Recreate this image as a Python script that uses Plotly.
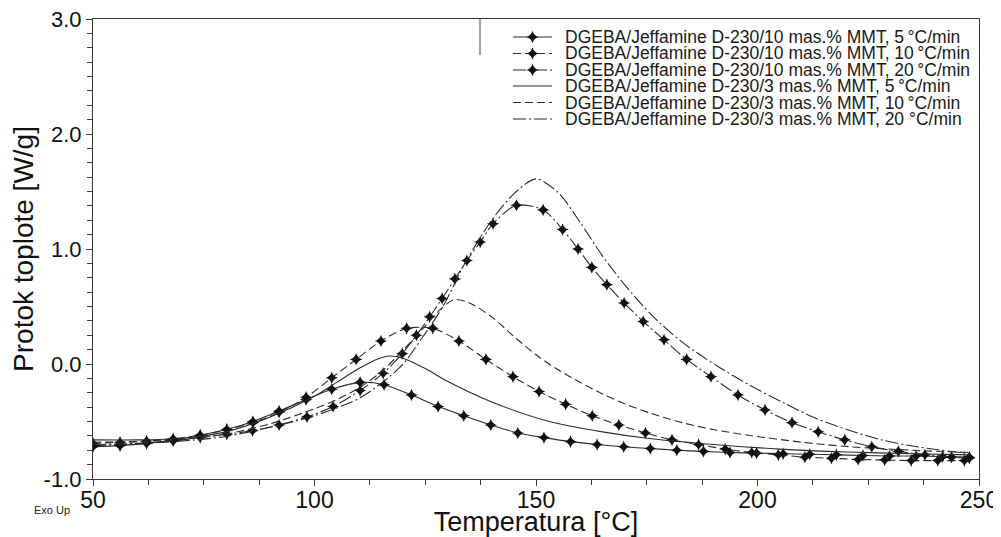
import plotly.graph_objects as go

# ---------------- data ----------------
T_10_5 = [50, 56.1, 62.1, 68.1, 74.2, 80.2, 86.1, 92.0, 98.1, 103.9, 110.3, 115.7, 121.9, 127.9,
          133.7, 139.8, 145.9, 151.8, 157.8, 163.8, 169.8, 175.8, 181.8, 187.8, 193.8, 199.8,
          205.8, 211.8, 217.8, 223.8, 229.8, 235.8, 241.8, 247.8]
Q_10_5 = [-0.72, -0.71, -0.69, -0.66, -0.62, -0.57, -0.50, -0.41, -0.31, -0.22, -0.16, -0.18, -0.27, -0.37,
          -0.45, -0.53, -0.60, -0.64, -0.675, -0.70, -0.72, -0.735, -0.75, -0.76, -0.77, -0.775,
          -0.78, -0.785, -0.79, -0.795, -0.80, -0.80, -0.805, -0.81]

T_10_10 = [50, 56.1, 62.1, 68.1, 74.2, 80.2, 86.1, 92.0, 98.1, 103.9, 109.4, 115.0, 120.8, 126.7,
           132.6, 138.7, 144.8, 150.7, 156.7, 162.7, 168.7, 174.7, 180.7, 186.7, 192.7, 198.7,
           204.7, 210.7, 216.7, 222.7, 228.7, 234.7, 240.7, 246.7]
Q_10_10 = [-0.69, -0.68, -0.67, -0.65, -0.62, -0.57, -0.51, -0.42, -0.29, -0.12, 0.04, 0.20, 0.31, 0.31,
           0.20, 0.04, -0.11, -0.24, -0.35, -0.45, -0.53, -0.60, -0.66, -0.70, -0.74, -0.77,
           -0.79, -0.81, -0.82, -0.83, -0.835, -0.84, -0.84, -0.84]

T_10_20 = [50, 56.1, 62.1, 68.1, 74.2, 80.2, 86.0, 92.0, 98.3, 104.2, 110.3, 115.5, 119.8, 123.0,
           126.0, 128.8, 131.7, 134.4, 137.4, 140.3, 145.6, 151.6, 156.0, 159.5, 162.6, 166.0,
           169.9, 174.2, 178.9, 184.0, 189.5, 195.6, 201.7, 207.8, 213.7, 219.7, 225.8, 231.8,
           237.8, 243.8, 247.8]
Q_10_20 = [-0.71, -0.70, -0.69, -0.67, -0.64, -0.61, -0.58, -0.53, -0.46, -0.37, -0.23, -0.08, 0.09, 0.25,
           0.41, 0.57, 0.74, 0.90, 1.06, 1.22, 1.38, 1.34, 1.17, 1.00, 0.84, 0.69,
           0.53, 0.37, 0.21, 0.04, -0.11, -0.27, -0.40, -0.51, -0.59, -0.66, -0.72, -0.76,
           -0.79, -0.81, -0.82]

T_3_5 = [50, 60, 70, 80, 90, 100, 105, 110, 114, 117, 120, 125, 130, 140, 153, 165, 176, 190,
         205, 220, 235, 248]
Q_3_5 = [-0.66, -0.66, -0.645, -0.59, -0.46, -0.28, -0.16, -0.04, 0.04, 0.07, 0.05, -0.04, -0.15,
         -0.33, -0.50, -0.59, -0.65, -0.70, -0.74, -0.765, -0.78, -0.79]

T_3_10 = [50, 60, 70, 80, 90, 100, 105, 110, 115, 120, 125, 128, 131.5, 135, 140, 145, 150, 155,
          160, 165, 170, 176, 183, 190, 198, 210, 221, 235, 248]
Q_3_10 = [-0.68, -0.675, -0.655, -0.61, -0.52, -0.39, -0.31, -0.21, -0.07, 0.12, 0.33, 0.46, 0.56,
          0.53, 0.41, 0.24, 0.08, -0.05, -0.16, -0.26, -0.345, -0.43, -0.51, -0.57, -0.62, -0.68,
          -0.72, -0.75, -0.77]

T_3_20 = [50, 60, 70, 80, 90, 100, 110, 115, 120, 123.8, 129, 134, 140, 145, 150, 155, 160, 165,
          170, 176, 183, 191, 198, 206, 213, 221, 228, 236, 248]
Q_3_20 = [-0.70, -0.69, -0.67, -0.63, -0.55, -0.45, -0.30, -0.17, 0.0, 0.20, 0.50, 0.88, 1.25, 1.48,
          1.61, 1.49, 1.23, 0.94, 0.69, 0.43, 0.19, -0.02, -0.18, -0.34, -0.47, -0.58, -0.66, -0.72,
          -0.78]

names = [
    "DGEBA/Jeffamine D-230/10 mas.% MMT, 5\u2009°C/min",
    "DGEBA/Jeffamine D-230/10 mas.% MMT, 10\u2009°C/min",
    "DGEBA/Jeffamine D-230/10 mas.% MMT, 20\u2009°C/min",
    "DGEBA/Jeffamine D-230/3 mas.% MMT, 5\u2009°C/min",
    "DGEBA/Jeffamine D-230/3 mas.% MMT, 10\u2009°C/min",
    "DGEBA/Jeffamine D-230/3 mas.% MMT, 20 °C/min",
]

x_ticks = [50, 100, 150, 200, 250]
y_ticks = [-1.0, 0.0, 1.0, 2.0, 3.0]

# ---------------- style ----------------
LINE = "#2b2b2b"
DASH = "8px,4px"
DASHDOT = "13px,3px,2px,3px"
FONT = "Liberation Sans, Arial, sans-serif"
MSIZE = 9

series = [
    (T_10_5, Q_10_5, "solid", True),
    (T_10_10, Q_10_10, DASH, True),
    (T_10_20, Q_10_20, DASHDOT, True),
    (T_3_5, Q_3_5, "solid", False),
    (T_3_10, Q_3_10, DASH, False),
    (T_3_20, Q_3_20, DASHDOT, False),
]

fig = go.Figure()
for (T, Q, dash, mk), nm in zip(series, names):
    fig.add_trace(go.Scatter(
        x=T, y=Q, name=nm, showlegend=False,
        mode="lines+markers" if mk else "lines",
        line=dict(color=LINE, width=1.1, dash=dash, shape="spline", smoothing=0.8),
        marker=dict(symbol="star-diamond", size=MSIZE, color="#111111", line=dict(width=0)),
        xaxis="x", yaxis="y",
    ))

# ---------------- geometry (page body has an 8px margin) ----------------
OFF = 8
FIG_W, FIG_H = 1001 - OFF, 537 - OFF
L, R, TOP, BOT = 93, 979, 19, 479          # plot area in screen pixels
W, H = R - L, BOT - TOP

# ---------------- legend (drawn as keys + text) ----------------
rows = [37, 53.5, 70, 86, 102.5, 119]
for i, ((T, Q, dash, mk), nm) in enumerate(zip(series, names)):
    fig.add_trace(go.Scatter(
        x=[0, 1], y=[rows[i], rows[i]], mode="lines", showlegend=False, hoverinfo="skip",
        line=dict(color=LINE, width=1.1, dash=dash), xaxis="x2", yaxis="y2"))
    if mk:
        fig.add_trace(go.Scatter(
            x=[0.5], y=[rows[i]], mode="markers", showlegend=False, hoverinfo="skip",
            marker=dict(symbol="star-diamond", size=MSIZE, color="#111111"), xaxis="x2", yaxis="y2"))
    fig.add_annotation(x=(563 - L) / W, y=(BOT - rows[i]) / H, xref="paper", yref="paper",
                       text=nm, showarrow=False, xanchor="left", yanchor="middle",
                       font=dict(family=FONT, size=17.5, color="#1a1a1a"))

fig.add_shape(type="line", xref="paper", yref="paper",
              x0=(480 - L) / W, x1=(480 - L) / W, y0=(BOT - 55) / H, y1=1.0,
              line=dict(color="#444", width=1))

fig.add_annotation(x=(32 - L) / W, y=(BOT - 510) / H, xref="paper", yref="paper",
                   text="Exo Up", showarrow=False, xanchor="left", yanchor="middle",
                   font=dict(family=FONT, size=11, color="#222"))

axis_common = dict(
    showline=True, linecolor="#3a3a3a", linewidth=1.2, mirror=True,
    ticks="outside", ticklen=6, tickwidth=1, tickcolor="#3a3a3a",
    showgrid=False, zeroline=False, automargin=False, ticklabeloverflow="allow",
)

fig.update_layout(
    width=FIG_W, height=FIG_H,
    margin=dict(l=L - OFF, r=FIG_W - (R - OFF), t=TOP - OFF, b=FIG_H - (BOT - OFF)),
    paper_bgcolor="white", plot_bgcolor="rgba(0,0,0,0)",
    showlegend=False,
    xaxis=dict(range=[50, 250], tickvals=x_ticks, ticktext=[str(v) for v in x_ticks],
               minor=dict(dtick=12.5, ticks="outside", ticklen=5, tickcolor="#3a3a3a"),
               tickfont=dict(family=FONT, size=23, color="#111"), ticklabelstandoff=-6,
               title=dict(text="Temperatura [°C]", standoff=0,
                          font=dict(family=FONT, size=27, color="#111")),
               **axis_common),
    yaxis=dict(range=[-1, 3], tickvals=y_ticks, ticktext=[f"{v:.1f}" for v in y_ticks],
               minor=dict(dtick=0.125, ticks="outside", ticklen=5, tickcolor="#3a3a3a"),
               tickfont=dict(family=FONT, size=22, color="#111"),
               title=dict(text="Protok toplote [W/g]", standoff=4,
                          font=dict(family=FONT, size=28, color="#111")),
               **axis_common),
    xaxis2=dict(domain=[(513 - L) / W, (552 - L) / W], range=[0, 1], visible=False,
                anchor="y2", fixedrange=True),
    yaxis2=dict(domain=[0, 1], range=[BOT, TOP], visible=False, anchor="x2", fixedrange=True),
)

fig.write_html("out.html")
